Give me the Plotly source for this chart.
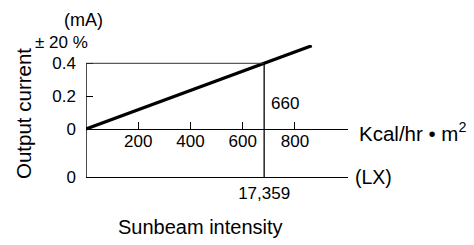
import plotly.graph_objects as go

# ---- data ----
kcal_ticks = [200, 400, 600, 800]          # Kcal/hr·m² tick values
current_ticks = [0, 0.2, 0.4]              # mA tick values
current_tick_text = ["0", "0.2", "0.4"]
line_kcal = [0, 864]                       # output-current line (Kcal/hr·m²)
line_current = [0, 0.507]                  # output-current line (mA)
ref_kcal_pos = 682                         # position of the reference drop line
ref_current = 0.4                          # mA at the reference point
ref_kcal_label = "660"
ref_lx_label = "17,359"
lx_zero_label = "0"

# ---- layout geometry (pixels) ----
W, H = 474, 245
L, R, T, B = 86, 348, 45, 177             # plot area
X_MAX = 1003
Y_LX = -0.2922                             # level of the LX axis
Y_TOP = 0.5114

def px(xp):
    return (xp - L) / (R - L)

def py(yp):
    return (B - yp) / (B - T)

FONT = "Liberation Sans, Arial, Helvetica, sans-serif"
BLACK = "#000000"

fig = go.Figure()
fig.add_trace(go.Scatter(x=line_kcal, y=line_current, mode="lines",
                         line=dict(color=BLACK, width=3.2),
                         hoverinfo="skip", showlegend=False))

shapes = [
    dict(type="line", xref="x", yref="y", x0=0, x1=0, y0=Y_LX, y1=ref_current,
         line=dict(color=BLACK, width=1.4)),
    dict(type="line", xref="x", yref="y", x0=0, x1=ref_kcal_pos,
         y0=ref_current, y1=ref_current, line=dict(color="#333333", width=1)),
    dict(type="line", xref="x", yref="y", x0=ref_kcal_pos, x1=ref_kcal_pos,
         y0=Y_LX, y1=ref_current, line=dict(color=BLACK, width=1.3)),
]

def ann(text, xp, yp, size, xanchor="center", **kw):
    return dict(text=text, x=px(xp), y=py(yp), xref="paper", yref="paper",
                xanchor=xanchor, yanchor="middle", showarrow=False,
                font=dict(family=FONT, color=BLACK, size=size), **kw)

annotations = [
    ann("(mA)", 83, 20, 18),
    ann("± 20 %", 61, 42, 17),
    ann("Output current", 23, 114, 20.5, textangle=-90),
    ann("Kcal/hr • m<sup>2</sup>", 357, 132, 20.5, xanchor="left"),
    ann("(LX)", 353, 177, 19.5, xanchor="left"),
    ann("Sunbeam intensity", 200, 227, 20),
    dict(text=ref_kcal_label, x=ref_kcal_pos, y=0.158, xref="x", yref="y",
         xanchor="left", yanchor="middle", xshift=5, showarrow=False,
         font=dict(family=FONT, color=BLACK, size=17)),
]

fig.update_layout(
    width=W, height=H,
    margin=dict(l=L, r=W - R, t=T, b=H - B, pad=0),
    paper_bgcolor="white", plot_bgcolor="white",
    font=dict(family=FONT, color=BLACK, size=17),
    shapes=shapes, annotations=annotations,
    xaxis=dict(range=[0, X_MAX], anchor="free", position=py(129),
               showline=True, linecolor=BLACK, linewidth=1.4,
               ticks="inside", ticklen=7, tickcolor=BLACK, tickwidth=1,
               tickvals=kcal_ticks, ticktext=[str(v) for v in kcal_ticks],
               tickfont=dict(size=17), ticklabelstandoff=-4,
               showgrid=False, zeroline=False, fixedrange=True),
    xaxis2=dict(range=[0, X_MAX], overlaying="x", anchor="y", side="bottom",
                showline=True, linecolor=BLACK, linewidth=1.4, ticks="",
                tickvals=[ref_kcal_pos], ticktext=[ref_lx_label],
                tickfont=dict(size=17), showgrid=False, zeroline=False,
                fixedrange=True),
    yaxis=dict(range=[Y_LX, Y_TOP], showline=False, ticks="inside", ticklen=7,
               tickcolor=BLACK, tickwidth=1,
               tickvals=[Y_LX] + current_ticks,
               ticktext=[lx_zero_label] + current_tick_text,
               tickfont=dict(size=17), ticklabelstandoff=9,
               showgrid=False, zeroline=False, fixedrange=True),
)
fig.add_trace(go.Scatter(x=[0], y=[Y_LX], xaxis="x2", yaxis="y", mode="markers",
                         marker=dict(opacity=0), hoverinfo="skip", showlegend=False))

fig.write_html("out.html", config=dict(displayModeBar=False),
               post_script="document.body.style.margin='0';document.body.style.padding='0';")
